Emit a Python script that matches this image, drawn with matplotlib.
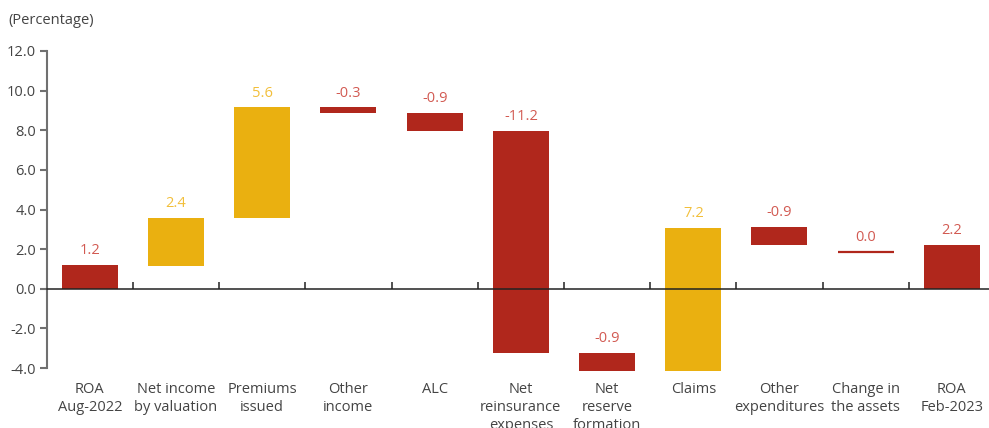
import matplotlib.pyplot as plt
from matplotlib import transforms

plt.rcParams['font.family'] = ['Open Sans', 'DejaVu Sans']

categories = ['ROA\nAug-2022', 'Net income\nby valuation', 'Premiums\nissued',
              'Other\nincome', 'ALC', 'Net\nreinsurance\nexpenses',
              'Net\nreserve\nformation', 'Claims', 'Other\nexpenditures',
              'Change in\nthe assets', 'ROA\nFeb-2023']
# labelled change of each step and the level where its bar starts
changes = [1.2, 2.4, 5.6, -0.3, -0.9, -11.2, -0.9, 7.2, -0.9, 0.0, 2.2]
bases = [0.0, 1.15, 3.55, 9.15, 8.85, 7.95, -3.25, -4.15, 3.1, 1.85, 0.0]
totals = [True, False, False, False, False, False, False, False, False, False, True]
yticks = [-4, -2, 0, 2, 4, 6, 8, 10, 12]

RED = '#b0271c'
YELLOW = '#eab010'
RED_TXT = '#d25a52'
YELLOW_TXT = '#f2bf3a'

fig = plt.figure(figsize=(9.89, 4.28), dpi=100)
ax = fig.add_axes([46.7 / 989, 60 / 428, (995 - 46.7) / 989, 317 / 428])

x = list(range(len(categories)))
for i in x:
    v, b = changes[i], bases[i]
    up = v > 0 and not totals[i]
    col = YELLOW if up else RED
    tcol = YELLOW_TXT if up else RED_TXT
    lw = 1.6 if v == 0 else 0
    ax.bar(i, v, bottom=b, width=0.65, color=col, edgecolor=col, linewidth=lw,
           zorder=2, clip_on=False)
    ax.annotate(f'{v:.1f}', (i, max(b, b + v)), xytext=(0, 5),
                textcoords='offset points', ha='center', va='bottom',
                fontsize=10.5, color=tcol)

ax.set_xlim(-0.5, len(categories) - 0.5)
ax.set_ylim(-4, 12)
ax.set_yticks(yticks)
ax.set_yticklabels([f'{t:.1f}' for t in yticks])

for s in ['top', 'right']:
    ax.spines[s].set_visible(False)
ax.spines['left'].set_color('#707070')
ax.spines['left'].set_linewidth(1.5)
ax.spines['bottom'].set_position(('data', 0))
ax.spines['bottom'].set_color('#222222')
ax.spines['bottom'].set_linewidth(1.1)
ax.spines['bottom'].set_zorder(3)

ax.set_xticks([i + 0.5 for i in x[:-1]])
ax.tick_params(axis='x', direction='in', length=5, width=1.1, color='#222222',
               labelbottom=False)
ax.tick_params(axis='y', direction='out', length=5, width=1.5, color='#707070',
               labelsize=10.5, labelcolor='#444444', pad=2.5)

trans = transforms.blended_transform_factory(ax.transData, ax.transAxes)
for i, c in enumerate(categories):
    ax.text(i, -0.043, c, transform=trans, ha='center', va='top',
            fontsize=10.5, color='#444444', linespacing=1.3, clip_on=False)

fig.text(8 / 989, 1 - 20 / 428, '(Percentage)', fontsize=10.5, color='#444444',
         va='center', ha='left')

fig.savefig('out.png', dpi=100)
